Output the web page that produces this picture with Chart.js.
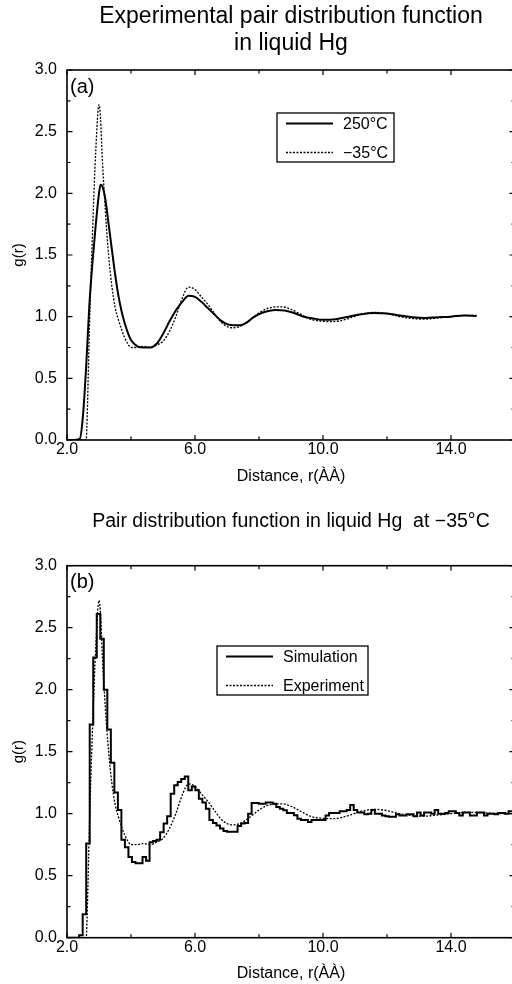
<!DOCTYPE html>
<html>
<head>
<meta charset="utf-8">
<script src="https://cdn.jsdelivr.net/npm/chart.js@4.4.1/dist/chart.umd.min.js"></script>
<style>
  html, body { margin: 0; padding: 0; background: #fff; overflow: hidden; }
  #page { width: 512px; height: 984px; overflow: hidden; position: relative; }
  .panel { width: 520px; height: 492px; position: relative; }
</style>
</head>
<body>
<div id="page">
  <div class="panel"><canvas id="chartA"></canvas></div>
  <div class="panel"><canvas id="chartB"></canvas></div>
</div>
<script>
// panel (a): experimental g(r), 250 C and -35 C
const hotX = [2.0, 2.2, 2.4, 2.5, 2.6, 2.7, 2.8, 2.9, 3.0, 3.05, 3.1, 3.2, 3.3, 3.4, 3.5, 3.6, 3.7, 3.8, 3.9, 4.0,
  4.2, 4.4, 4.6, 4.8, 5.0, 5.2, 5.4, 5.6, 5.8, 6.0, 6.2, 6.4, 6.6, 6.8, 7.0, 7.2, 7.4, 7.6, 7.8, 8.0,
  8.2, 8.5, 8.8, 9.1, 9.4, 9.7, 10.0, 10.4, 10.8, 11.2, 11.6, 12.0, 12.4, 12.8, 13.2, 13.6, 14.0, 14.4, 14.8];
const hotY = [0, 0, 0.01, 0.2, 0.6, 1.1, 1.45, 1.75, 2.0, 2.07, 2.06, 1.95, 1.75, 1.55, 1.35, 1.18, 1.05, 0.95, 0.87, 0.81,
  0.76, 0.75, 0.75, 0.78, 0.86, 0.96, 1.05, 1.12, 1.17, 1.16, 1.12, 1.07, 1.02, 0.97, 0.94, 0.93, 0.93, 0.95, 0.99, 1.02,
  1.04, 1.055, 1.05, 1.03, 1.0, 0.985, 0.975, 0.98, 1.0, 1.02, 1.03, 1.025, 1.01, 0.995, 0.99, 0.995, 1.0, 1.01, 1.005];

const coldX = [2.0, 2.6, 2.62, 2.7, 2.8, 2.9, 3.0, 3.05, 3.1, 3.2, 3.3, 3.4, 3.5, 3.6, 3.7, 3.8, 3.9, 4.0, 4.2, 4.4,
  4.6, 4.8, 5.0, 5.2, 5.4, 5.6, 5.8, 5.9, 6.0, 6.2, 6.4, 6.6, 6.8, 7.0, 7.2, 7.4, 7.6, 7.8, 8.0, 8.2,
  8.4, 8.7, 9.0, 9.3, 9.6, 9.9, 10.2, 10.5, 10.8, 11.2, 11.6, 12.0, 12.4, 12.8, 13.2, 13.6, 14.0, 14.4, 14.8];
const coldY = [0, 0, 0.1, 0.9, 1.7, 2.35, 2.72, 2.6, 2.3, 1.85, 1.5, 1.25, 1.08, 0.98, 0.9, 0.83, 0.78, 0.75, 0.75, 0.76,
  0.75, 0.77, 0.8, 0.88, 1.0, 1.15, 1.24, 1.235, 1.22, 1.16, 1.1, 1.03, 0.96, 0.92, 0.91, 0.92, 0.95, 0.99, 1.03, 1.06,
  1.075, 1.08, 1.06, 1.02, 0.98, 0.965, 0.96, 0.965, 0.985, 1.02, 1.035, 1.025, 1.0, 0.985, 0.98, 0.99, 1.0, 1.01, 1.01];

// panel (b): the experiment runs a bit further to the right
const expTailX = [15.2, 15.6, 16.0];
const expTailY = [1.005, 1.0, 1.0];

// simulation histogram, bins of equal width from simStart
const simStart = 2.38;
const simBinWidth = 0.11;
const simY = [0.02, 0.19, 0.76, 1.72, 2.26, 2.61, 2.41, 2.0, 1.68, 1.41,
  1.17, 1.03, 0.79, 0.73, 0.65, 0.61, 0.60, 0.60, 0.65, 0.62,
  0.77, 0.78, 0.79, 0.85, 0.92, 0.98, 1.16, 1.23, 1.255, 1.28,
  1.30, 1.19, 1.22, 1.19, 1.12, 1.09, 1.04, 0.95, 0.925, 0.905,
  0.88, 0.86, 0.855, 0.855, 0.855, 0.90, 0.92, 0.925, 1.0, 1.086,
  1.086, 1.08, 1.08, 1.09, 1.09, 1.08, 1.054, 1.04, 1.027, 1.006,
  1.006, 0.987, 0.96, 0.95, 0.95, 0.933, 0.95, 0.95, 0.95, 0.95,
  0.985, 1.005, 1.005, 1.005, 1.02, 1.02, 1.03, 1.07, 1.03, 1.01,
  1.01, 0.995, 1.0, 1.03, 1.0, 1.0, 0.985, 0.98, 0.975, 0.975,
  0.995, 0.985, 0.985, 0.995, 0.995, 0.98, 1.01, 0.985, 1.01, 1.01,
  1.0, 1.03, 1.0, 1.0, 1.005, 1.02, 1.02, 1.005, 0.985, 1.01,
  1.01, 0.985, 0.985, 1.01, 1.01, 0.985, 1.0, 1.0, 0.995, 1.005,
  1.005, 1.0, 1.02, 1.02];

const xTickLabels = [2, 6, 10, 14];
const xMinorTicks = [4, 8, 12, 16];
const yTickLabels = [0, 0.5, 1, 1.5, 2, 2.5, 3];
const yMinorTicks = [0.25, 0.75, 1.25, 1.75, 2.25, 2.75];

const FONT = '"Liberation Sans", Arial, Helvetica, sans-serif';
Chart.defaults.font.family = FONT;
Chart.defaults.color = '#000';

function toPoints(xs, ys) {
  return xs.map((x, i) => ({ x: x, y: ys[i] }));
}

// each bin starts at its left edge and holds until the next one
function simPoints() {
  const pts = [{ x: 2.0, y: 0 }];
  simY.forEach((v, i) => pts.push({ x: simStart + i * simBinWidth, y: v }));
  pts.push({ x: simStart + simY.length * simBinWidth, y: simY[simY.length - 1] });
  return pts;
}

// box, inward ticks on all four sides, panel letter and the boxed legend
const framePlugin = {
  id: 'frame',
  afterDatasetsDraw(chart, args, opts) {
    const { ctx, chartArea: a, scales: { x, y } } = chart;
    ctx.save();
    ctx.strokeStyle = '#000';
    ctx.lineWidth = 1.6;
    ctx.strokeRect(a.left, a.top, a.right - a.left, a.bottom - a.top);

    ctx.beginPath();
    const xTicks = (vals, len) => vals.forEach(v => {
      const px = x.getPixelForValue(v);
      ctx.moveTo(px, a.bottom); ctx.lineTo(px, a.bottom - len);
      ctx.moveTo(px, a.top); ctx.lineTo(px, a.top + len);
    });
    const yTicks = (vals, len) => vals.forEach(v => {
      const py = y.getPixelForValue(v);
      ctx.moveTo(a.left, py); ctx.lineTo(a.left + len, py);
      ctx.moveTo(a.right, py); ctx.lineTo(a.right - len, py);
    });
    xTicks(xTickLabels, 5);
    xTicks(xMinorTicks, 3.5);
    yTicks(yTickLabels, 5.5);
    yTicks(yMinorTicks, 3.5);
    ctx.lineWidth = 1.2;
    ctx.stroke();

    ctx.fillStyle = '#000';
    ctx.font = '20px ' + FONT;
    ctx.textAlign = 'left';
    ctx.textBaseline = 'middle';
    ctx.fillText(opts.letter, a.left + 3, a.top + 17);

    // legend
    const b = opts.box;
    ctx.lineWidth = 1.3;
    ctx.setLineDash([]);
    ctx.strokeRect(b.x, b.y, b.w, b.h);
    ctx.font = '16px ' + FONT;
    chart.data.datasets.forEach((ds, i) => {
      const ly = b.y + 10.5 + i * 29;
      ctx.save();
      ctx.lineWidth = ds.borderWidth;
      ctx.setLineDash(ds.borderDash || []);
      ctx.beginPath();
      ctx.moveTo(b.x + 9, ly);
      ctx.lineTo(b.x + 56, ly);
      ctx.stroke();
      ctx.restore();
      ctx.fillText(ds.label, b.x + 66, ly + 1);
    });
    ctx.restore();
  }
};

function axes(bottomHeight, titlePad) {
  return {
    x: {
      type: 'linear', min: 2, max: 16,
      afterBuildTicks: s => { s.ticks = xTickLabels.map(v => ({ value: v })); },
      afterFit: s => { s.height = bottomHeight; },
      grid: { display: false, drawTicks: false },
      border: { display: false },
      ticks: { callback: v => v.toFixed(1), padding: 0, maxRotation: 0, autoSkip: false, font: { size: 16 } },
      title: { display: true, text: 'Distance, r(ÀÀ)', font: { size: 16 }, padding: { top: 0, bottom: titlePad } }
    },
    y: {
      type: 'linear', min: 0, max: 3,
      afterBuildTicks: s => { s.ticks = yTickLabels.map(v => ({ value: v })); },
      afterFit: s => { s.width = 67; },
      grid: { display: false, drawTicks: false },
      border: { display: false },
      ticks: { callback: v => v.toFixed(1), padding: 10, font: { size: 16 } },
      title: { display: true, text: 'g(r)', font: { size: 15 }, padding: { top: 10, bottom: 0 } }
    }
  };
}

const solid = { borderColor: '#000', borderWidth: 2, pointRadius: 0, fill: false };
const dashed = { borderColor: '#000', borderWidth: 1.3, borderDash: [2, 1.5], pointRadius: 0, fill: false };

new Chart(document.getElementById('chartA'), {
  type: 'line',
  data: {
    datasets: [
      Object.assign({ label: '250°C', data: toPoints(hotX, hotY), cubicInterpolationMode: 'monotone' }, solid),
      Object.assign({ label: '−35°C', data: toPoints(coldX, coldY), cubicInterpolationMode: 'monotone' }, dashed)
    ]
  },
  options: {
    responsive: true, maintainAspectRatio: false, animation: false,
    layout: { padding: { left: 0, right: 5, top: 0, bottom: 0 } },
    plugins: {
      legend: { display: false },
      tooltip: { enabled: false },
      title: {
        display: true, fullSize: false, color: '#000',
        text: ['Experimental pair distribution function', 'in liquid Hg'],
        font: { size: 23, weight: 'normal', lineHeight: '27px' },
        padding: { top: 3.5, bottom: 12.5 }
      },
      frame: { letter: '(a)', box: { x: 277, y: 113, w: 117, h: 49 } }
    },
    scales: axes(52, 5.8)
  },
  plugins: [framePlugin]
});

new Chart(document.getElementById('chartB'), {
  type: 'line',
  data: {
    datasets: [
      Object.assign({ label: 'Simulation', data: simPoints(), stepped: 'before' }, solid),
      Object.assign({ label: 'Experiment', data: toPoints(coldX.concat(expTailX), coldY.concat(expTailY)), cubicInterpolationMode: 'monotone' }, dashed)
    ]
  },
  options: {
    responsive: true, maintainAspectRatio: false, animation: false,
    layout: { padding: { left: 0, right: 5, top: 0, bottom: 0 } },
    plugins: {
      legend: { display: false },
      tooltip: { enabled: false },
      title: {
        display: true, fullSize: false, color: '#000',
        text: 'Pair distribution function in liquid Hg  at −35°C',
        font: { size: 19.5, weight: 'normal', lineHeight: '24px' },
        padding: { top: 18, bottom: 31.7 }
      },
      frame: { letter: '(b)', box: { x: 217, y: 154, w: 151, h: 49 } }
    },
    scales: axes(46.3, 1.2)
  },
  plugins: [framePlugin]
});
</script>
</body>
</html>
